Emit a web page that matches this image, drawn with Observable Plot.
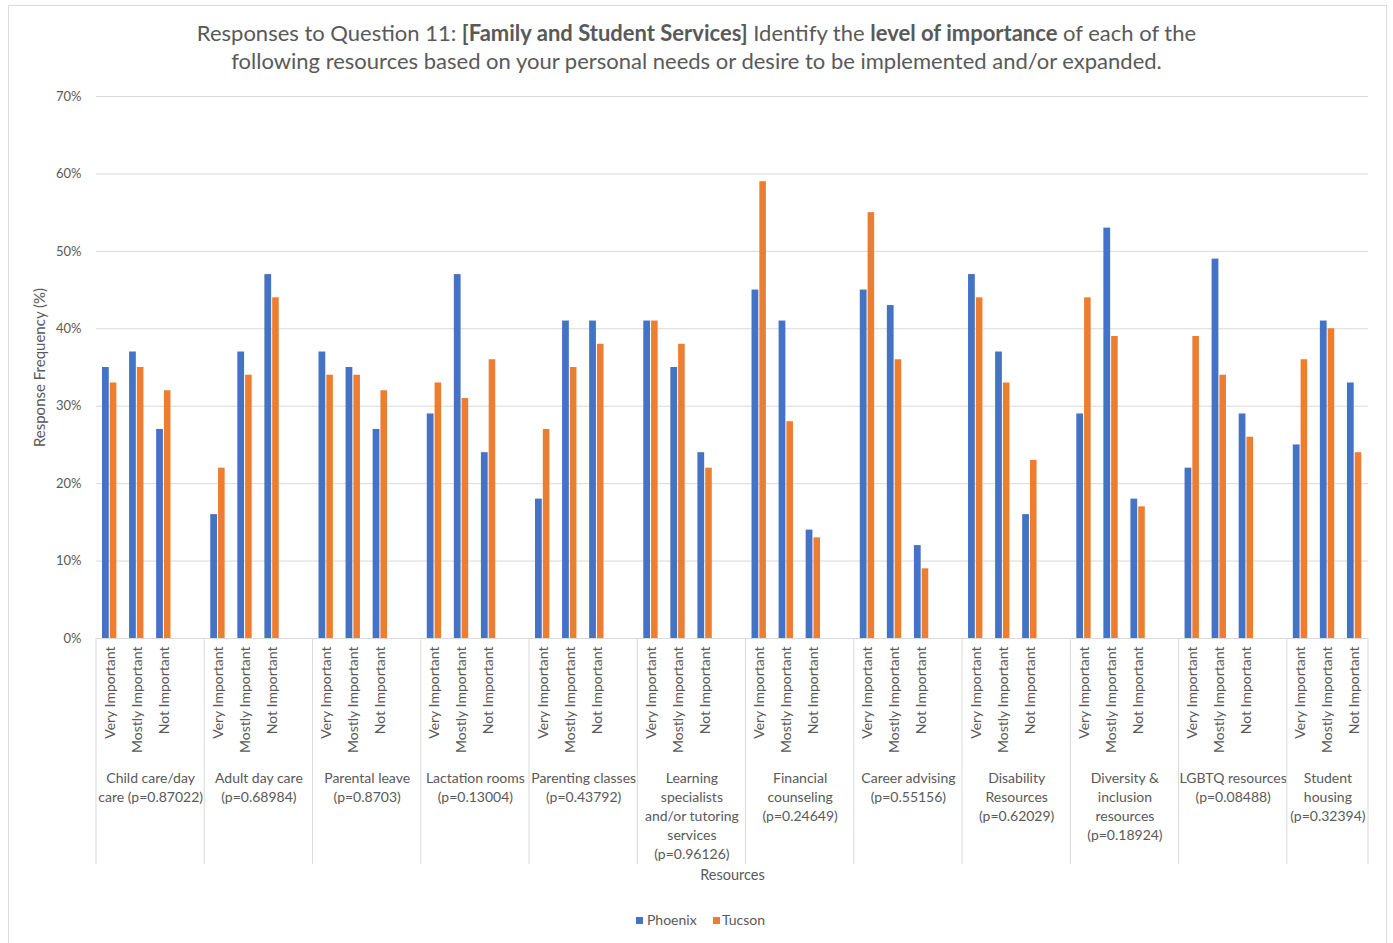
<!DOCTYPE html>
<html><head><meta charset="utf-8">
<script src="https://cdn.jsdelivr.net/npm/d3@7"></script>
<script src="https://cdn.jsdelivr.net/npm/@observablehq/plot@0.6"></script>
<style>
body{margin:0;background:#fff;font-family:Lato,sans-serif;color:#595959;width:1393px;height:943px;overflow:hidden;position:relative;}
#frame{position:absolute;left:8px;top:5px;width:1379px;height:960px;border:1px solid #d9d9d9;box-sizing:border-box;}
#title{position:absolute;left:0;top:19px;width:1393px;text-align:center;font-size:22px;line-height:28px;}
#chart{position:absolute;left:0;top:80px;}
#legend{position:absolute;left:0;top:911px;width:1393px;font-size:14px;}
.sw{position:absolute;top:6px;width:7px;height:7px;}
.lt{position:absolute;top:0;line-height:18px;}
</style></head>
<body>
<div id="frame"></div>
<div id="title">Responses to Question 11: <b>[Family and Student Services]</b> Identify the <b>level of importance</b> of each of the<br>following resources based on your personal needs or desire to be implemented and/or expanded.</div>
<div id="chart"></div>
<div id="legend">
<div class="sw" style="left:636px;background:#4472C4"></div><div class="lt" style="left:647px">Phoenix</div>
<div class="sw" style="left:713px;background:#ED7D31"></div><div class="lt" style="left:722px">Tucson</div>
</div>
<script>
const groups = ["Child care/day\ncare (p=0.87022)", "Adult day care\n(p=0.68984)", "Parental leave\n(p=0.8703)", "Lactation rooms\n(p=0.13004)", "Parenting classes\n(p=0.43792)", "Learning\nspecialists\nand/or tutoring\nservices\n(p=0.96126)", "Financial\ncounseling\n(p=0.24649)", "Career advising\n(p=0.55156)", "Disability\nResources\n(p=0.62029)", "Diversity &\ninclusion\nresources\n(p=0.18924)", "LGBTQ resources\n(p=0.08488)", "Student\nhousing\n(p=0.32394)"];
const levels = ["Very Important", "Mostly Important", "Not Important"];
const phoenix = [35,37,27, 16,37,47, 37,35,27, 29,47,24, 18,41,41, 41,35,24, 45,41,14, 45,43,12, 47,37,16, 29,53,18, 22,49,29, 25,41,33];
const tucson  = [33,35,32, 22,34,44, 34,34,32, 33,31,36, 27,35,38, 41,38,22, 59,28,13, 55,36,9, 44,33,23, 44,39,17, 39,34,26, 36,40,24];
const yTicks = [0,10,20,30,40,50,60,70];
const seriesNames = ["Phoenix", "Tucson"];
const colors = ["#4472C4", "#ED7D31"];

const slots = [];
groups.forEach((g, gi) => {
  levels.forEach((l, li) => slots.push(gi + "|" + li));
  if (gi < groups.length - 1) slots.push(gi + "|gap");
});
const rows = [];
phoenix.forEach((v, i) => {
  rows.push({slot: Math.floor(i/3) + "|" + (i%3), level: levels[i%3], phx: v, tuc: tucson[i]});
});
const lastG = groups.length - 1;
const groupRows = groups.map((g, gi) => ({slot: gi + "|1", label: g, last: gi === lastG}));

const W = 1393, H = 815;
const plot = Plot.plot({
  width: W, height: H,
  marginLeft: 96, marginRight: 25, marginTop: 16, marginBottom: 257,
  style: {fontFamily: "Lato, sans-serif", fontSize: "13px", color: "#595959", background: "none", overflow: "visible"},
  x: {type: "band", domain: slots, padding: 0, round: false},
  y: {domain: [0, 70], ticks: yTicks},
  marks: [
    Plot.gridY(yTicks, {stroke: "#d9d9d9", strokeOpacity: 1, strokeWidth: 1}),
    Plot.barY(rows, {x: "slot", y: "phx", fill: colors[0], insetLeft: 6, insetRight: 14.3}),
    Plot.barY(rows, {x: "slot", y: "tuc", fill: colors[1], insetLeft: 13.8, insetRight: 6.7}),
    Plot.axisY(yTicks, {tickSize: 0, tickPadding: 15, tickFormat: d => d + "%", label: null, fill: "#595959", fontSize: 13}),
    Plot.axisX({tickRotate: -90, tickSize: 0, tickPadding: 8, label: null, fill: "#595959", fontSize: 14,
      tickFormat: k => { const p = k.split("|"); return p[1] === "gap" ? "" : levels[+p[1]]; }}),
    Plot.text(groupRows.filter(d => !d.last), {x: "slot", dx: 13.53, frameAnchor: "bottom", dy: 131, text: "label", lineAnchor: "top", lineHeight: 1.36, fontSize: 14, fill: "#595959"}),
    Plot.text(groupRows.filter(d => d.last), {x: "slot", frameAnchor: "bottom", dy: 131, text: "label", lineAnchor: "top", lineHeight: 1.36, fontSize: 14, fill: "#595959"}),
    Plot.text(["Response Frequency (%)"], {frameAnchor: "left", textAnchor: "middle", rotate: -90, dx: -56, fontSize: 15, fill: "#595959"}),
    Plot.text(["Resources"], {frameAnchor: "bottom", dy: 241, fontSize: 14.5, fill: "#595959"})
  ]
});
document.getElementById("chart").appendChild(plot);

// group separators below the axis, positioned via the plot's x scale
const xs = plot.scale("x");
const y0 = plot.scale("y").apply(0);
const sepKeys = groups.map((g, gi) => gi + "|0");
const svg = d3.select(plot);
const sepX = sepKeys.map(k => xs.apply(k)).concat([xs.apply(slots[slots.length-1]) + xs.bandwidth]);
svg.append("g").selectAll("line").data(sepX).join("line")
  .attr("x1", d => d).attr("x2", d => d)
  .attr("y1", y0).attr("y2", y0 + 226)
  .attr("stroke", "#d9d9d9").attr("stroke-width", 1);
</script>
</body></html>
